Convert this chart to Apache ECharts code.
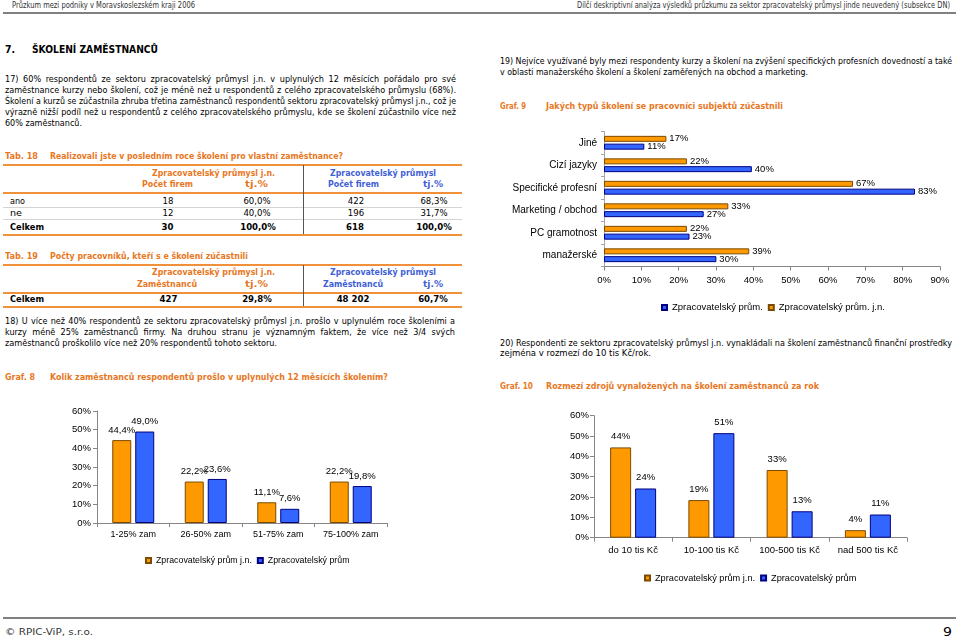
<!DOCTYPE html>
<html><head><meta charset="utf-8">
<script src="https://cdn.jsdelivr.net/npm/echarts@6/dist/echarts.min.js"></script>
<style>
html,body{margin:0;padding:0;background:#fff;width:959px;height:637px;overflow:hidden;position:relative}
.t{position:absolute;white-space:nowrap;line-height:12px;height:12px;transform-origin:0 50%;font-family:'DejaVu Sans Condensed','DejaVu Sans',sans-serif;font-size:9px;color:#000}
.hd{font-size:8.5px;color:#333}
.h1{font-family:'DejaVu Sans',sans-serif;font-weight:bold;font-size:11px}
.ot{font-weight:bold;color:#E8771E}
.tb{font-weight:bold;color:#3F5FD6}
.b{font-weight:bold}
.n{font-size:9.5px}
.pg{font-size:13px}
.rule{position:absolute}
.chart{position:absolute}
</style></head><body>
<div id="c8" class="chart" style="left:0;top:395px;width:480px;height:180px"></div>
<div id="c9" class="chart" style="left:480px;top:120px;width:479px;height:200px"></div>
<div id="c10" class="chart" style="left:480px;top:395px;width:479px;height:200px"></div>
<script>
// ---- chart data ----
const g8Categories = ['1-25% zam', '26-50% zam', '51-75% zam', '75-100% zam'];
const g8SeriesJn = [44.4, 22.2, 11.1, 22.2];
const g8SeriesAll = [49.0, 23.6, 7.6, 19.8];

const g9Categories = ['Jiné', 'Cizí jazyky', 'Specifické profesní', 'Marketing / obchod', 'PC gramotnost', 'manažerské'];
const g9SeriesJn = [16.7, 22.2, 66.7, 33.3, 22.2, 38.9];
const g9SeriesAll = [10.8, 39.6, 83.3, 26.7, 22.9, 30.1];

const g10Categories = ['do 10 tis Kč', '10-100 tis Kč', '100-500 tis Kč', 'nad 500 tis Kč'];
const g10SeriesJn = [44.4, 18.5, 33.3, 3.7];
const g10SeriesAll = [24.2, 51.4, 13.0, 11.4];

const pctTicks = [0, 10, 20, 30, 40, 50, 60, 70, 80, 90];

// ---- page text ----
const OR = '#F0903A';
const texts = [
 [12, 5, 183, 'Průzkum mezi podniky v Moravskoslezském kraji 2006', 'hd', 's'],
 [577, 5, 373, 'Dílčí deskriptivní analýza výsledků průzkumu za sektor zpracovatelský průmysl jinde neuvedený (subsekce DN)', 'hd', 's'],
 [5, 50, 10, '7.', 'h1', 's'],
 [32, 50, 126, 'ŠKOLENÍ ZAMĚSTNANCŮ', 'h1', 's'],
 [5, 79, 451, '17) 60% respondentů ze sektoru zpracovatelský průmysl j.n. v uplynulých 12 měsících pořádalo pro své', '', 'j'],
 [5, 90, 451, 'zaměstnance kurzy nebo školení, což je méně než u respondentů z celého zpracovatelského průmyslu (68%).', '', 'j'],
 [5, 101, 451, 'Školení a kurzů se zúčastnila zhruba třetina zaměstnanců respondentů sektoru zpracovatelský průmysl j.n., což je', '', 'j'],
 [5, 112, 451, 'výrazně nižší podíl než u respondentů z celého zpracovatelského průmyslu, kde se školení zúčastnilo více než', '', 'j'],
 [5, 123, 77, '60% zaměstnanců.', '', 's'],
 [5, 156, 33, 'Tab. 18', 'ot', 's'],
 [50, 156, 293, 'Realizovali jste v posledním roce školení pro vlastní zaměstnance?', 'ot', 's'],
 [152, 172.7, 123, 'Zpracovatelský průmysl j.n.', 'ot', 's'],
 [330, 172.7, 106, 'Zpracovatelský průmysl', 'tb', 's'],
 [142, 184.3, 51, 'Počet firem', 'ot', 's'],
 [245, 184.3, 23, 'tj.%', 'ot', 's'],
 [328, 184.3, 51, 'Počet firem', 'tb', 's'],
 [423, 184.3, 20, 'tj.%', 'tb', 's'],
 [10, 200.7, 15, 'ano', 'n', 's'],
 [168, 200.7, 0, '18', 'n', 'c'], [257, 200.7, 0, '60,0%', 'n', 'c'], [356, 200.7, 0, '422', 'n', 'c'], [434, 200.7, 0, '68,3%', 'n', 'c'],
 [10, 212.7, 12, 'ne', 'n', 's'],
 [168, 212.7, 0, '12', 'n', 'c'], [257, 212.7, 0, '40,0%', 'n', 'c'], [356, 212.7, 0, '196', 'n', 'c'], [434, 212.7, 0, '31,7%', 'n', 'c'],
 [10, 226.7, 34, 'Celkem', 'b', 's'],
 [167.5, 226.7, 0, '30', 'b n', 'c'], [258, 226.7, 0, '100,0%', 'b n', 'c'], [355, 226.7, 0, '618', 'b n', 'c'], [434, 226.7, 0, '100,0%', 'b n', 'c'],
 [5, 256, 33, 'Tab. 19', 'ot', 's'],
 [50, 256, 198, 'Počty pracovníků, kteří s e školení zúčastnili', 'ot', 's'],
 [152, 271.7, 123, 'Zpracovatelský průmysl j.n.', 'ot', 's'],
 [330, 271.7, 106, 'Zpracovatelský průmysl', 'tb', 's'],
 [137, 284.3, 60, 'Zaměstnanců', 'ot', 's'],
 [245, 284.3, 23, 'tj.%', 'ot', 's'],
 [323, 284.3, 60, 'Zaměstnanců', 'tb', 's'],
 [423, 284.3, 20, 'tj.%', 'tb', 's'],
 [10, 299.3, 34, 'Celkem', 'b', 's'],
 [168.5, 299.3, 0, '427', 'b n', 'c'], [257, 299.3, 0, '29,8%', 'b n', 'c'], [353, 299.3, 0, '48 202', 'b n', 'c'], [433, 299.3, 0, '60,7%', 'b n', 'c'],
 [5, 321, 450, '18) U více než 40% respondentů ze sektoru zpracovatelský průmysl j.n.  prošlo v uplynulém roce školeními a', '', 'j'],
 [5, 332.3, 450, 'kurzy méně 25% zaměstnanců firmy. Na druhou stranu  je významným faktem, že více než 3/4 svých', '', 'j'],
 [5, 343.3, 272, 'zaměstnanců  proškolilo více než 20% respondentů  tohoto sektoru.', '', 's'],
 [5, 377.3, 30, 'Graf. 8', 'ot', 's'],
 [50, 377.3, 338, 'Kolik zaměstnanců respondentů prošlo v uplynulých 12 měsících školením?', 'ot', 's'],
 [500, 61, 452, '19) Nejvíce využívané byly mezi respondenty kurzy a školení na zvýšení specifických profesních dovedností a také', '', 'j'],
 [500, 72, 308, 'v oblasti manažerského školení a školení zaměřených na obchod a marketing.', '', 's'],
 [500, 106, 26, 'Graf. 9', 'ot', 's'],
 [546, 106, 237, 'Jakých typů školení se pracovníci subjektů zúčastnili', 'ot', 's'],
 [500, 342.7, 452, '20) Respondenti ze sektoru zpracovatelský průmysl j.n. vynakládali na školení zaměstnanců finanční prostředky', '', 'j'],
 [500, 353.3, 151, 'zejména v rozmezí do 10 tis Kč/rok.', '', 's'],
 [500, 385.7, 33, 'Graf. 10', 'ot', 's'],
 [546, 385.7, 273, 'Rozmezí zdrojů vynaložených na školení zaměstnanců za rok', 'ot', 's'],
 [5, 632, 88, '© RPIC-ViP, s.r.o.', 'hd', 's'],
 [943, 632, 9, '9', 'pg', 's']
];
const rules = [
 [3, 12, 953, 2, '#808080'],
 [3, 163.5, 459, 2, OR], [3, 191.5, 459, 2, OR], [3, 233.5, 459, 2, OR],
 [3, 206.5, 459, 1, '#d4d4d4'], [3, 219, 459, 1, '#d4d4d4'], [303, 165, 1, 69, '#555'],
 [3, 263.5, 459, 2, OR], [3, 291.5, 459, 2, OR], [3, 306, 459, 2, OR], [303, 265, 1, 41, '#555'],
 [3, 616.5, 953, 2, '#808080']
];

rules.forEach(([x, y, w, h, c]) => {
  const d = document.createElement('div');
  d.className = 'rule';
  d.style.cssText = `left:${x}px;top:${y}px;width:${w}px;height:${h}px;background:${c}`;
  document.body.appendChild(d);
});

function placeTexts() {
  texts.forEach(([x, yc, w, text, cls, mode]) => {
    const el = document.createElement('div');
    el.className = 't ' + (cls || '');
    el.textContent = text;
    el.style.left = x + 'px';
    el.style.top = (yc - 6) + 'px';
    document.body.appendChild(el);
    const nat = el.getBoundingClientRect().width;
    if (mode === 'c') {
      el.style.left = (x - nat / 2) + 'px';
    } else if (mode === 'j' && nat < w) {
      const spaces = (text.replace(/ +/g, ' ').match(/ /g) || []).length;
      el.style.wordSpacing = ((w - nat) / spaces) + 'px';
    } else {
      el.style.transform = 'scaleX(' + (w / nat) + ')';
    }
  });
}

// ---- charts ----
const FONT = "'Liberation Sans', Arial, sans-serif";
const AX = '#868686';
const orangeStyle = { color: '#FF9900', borderColor: '#7A4B00', borderWidth: 1 };
const blueStyle = { color: '#3366FF', borderColor: '#000080', borderWidth: 1 };
const fmt1 = v => v.toFixed(1).replace('.', ',') + '%';
const fmt0 = v => Math.round(v) + '%';

function axisCat(data, margin, fs) {
  return { type: 'category', data: data,
    axisLine: { show: true, lineStyle: { color: AX } },
    axisTick: { show: true, length: 4, lineStyle: { color: AX } },
    axisLabel: { fontSize: fs, color: '#000', margin: margin, interval: 0, fontFamily: FONT } };
}
function axisVal(max, margin, fs) {
  return { type: 'value', min: 0, max: max, interval: 10,
    axisLine: { show: true, lineStyle: { color: AX } },
    axisTick: { show: true, length: 4, lineStyle: { color: AX } },
    splitLine: { show: false },
    axisLabel: { fontSize: fs, color: '#000', margin: margin, fontFamily: FONT,
      formatter: v => (pctTicks.indexOf(v) >= 0 ? v + '%' : '') } };
}
function legend(left, top, names, fs) {
  return { left: left, top: top, padding: 0, icon: 'rect', itemWidth: 5, itemHeight: 5, itemGap: 5,
    data: names, textStyle: { fontSize: fs, color: '#000', fontFamily: FONT, lineHeight: 11 } };
}

const nJn8 = 'Zpracovatelský prům j.n.', nAll8 = 'Zpracovatelský prům';
const c8 = echarts.init(document.getElementById('c8'), null, { renderer: 'canvas' });
c8.setOption({
  animation: false,
  textStyle: { fontFamily: FONT },
  grid: { left: 97, top: 16, width: 290, height: 112, containLabel: false },
  legend: legend(145, 160, [nJn8, nAll8], 8.8),
  xAxis: axisCat(g8Categories, 7, 9),
  yAxis: axisVal(60, 6, 9.5),
  series: [
    { name: nJn8, type: 'bar', data: g8SeriesJn, barWidth: 19, barGap: '21%', itemStyle: orangeStyle,
      label: { show: true, position: 'top', distance: 5, fontSize: 9.5, color: '#000', fontFamily: FONT, formatter: p => fmt1(p.value) } },
    { name: nAll8, type: 'bar', data: g8SeriesAll, barWidth: 19, barGap: '21%', itemStyle: blueStyle,
      label: { show: true, position: 'top', distance: 5, fontSize: 9.5, color: '#000', fontFamily: FONT, formatter: p => fmt1(p.value) } }
  ]
});

const nAll9 = 'Zpracovatelský prům.', nJn9 = 'Zpracovatelský prům. j.n.';
const c9 = echarts.init(document.getElementById('c9'), null, { renderer: 'canvas' });
const y9 = axisCat(g9Categories, 7, 10);
y9.inverse = true;
y9.axisTick.length = 3;
y9.axisLine.lineStyle.color = '#A6A6A6';
y9.axisTick.lineStyle.color = '#A6A6A6';
c9.setOption({
  animation: false,
  textStyle: { fontFamily: FONT },
  grid: { left: 124, top: 11.5, width: 336, height: 135, containLabel: false },
  legend: legend(181, 182, [nAll9, nJn9], 9.5),
  xAxis: axisVal(90, 9, 9.5),
  yAxis: y9,
  series: [
    { name: nJn9, type: 'bar', data: g9SeriesJn, barWidth: 6, barGap: '30%', itemStyle: orangeStyle,
      label: { show: true, position: 'right', distance: 3, fontSize: 9.5, color: '#000', fontFamily: FONT, formatter: p => fmt0(p.value) } },
    { name: nAll9, type: 'bar', data: g9SeriesAll, barWidth: 6, barGap: '30%', itemStyle: blueStyle,
      label: { show: true, position: 'right', distance: 3, fontSize: 9.5, color: '#000', fontFamily: FONT, formatter: p => fmt0(p.value) } }
  ]
});

const c10 = echarts.init(document.getElementById('c10'), null, { renderer: 'canvas' });
c10.setOption({
  animation: false,
  textStyle: { fontFamily: FONT },
  grid: { left: 114, top: 20.7, width: 313, height: 122, containLabel: false },
  legend: legend(164, 177.5, [nJn8, nAll8], 9.2),
  xAxis: axisCat(g10Categories, 8, 9.5),
  yAxis: axisVal(60, 5, 9.5),
  series: [
    { name: nJn8, type: 'bar', data: g10SeriesJn, barWidth: 21, barGap: '19%', itemStyle: orangeStyle,
      label: { show: true, position: 'top', distance: 6, fontSize: 9.5, color: '#000', fontFamily: FONT, formatter: p => fmt0(p.value) } },
    { name: nAll8, type: 'bar', data: g10SeriesAll, barWidth: 21, barGap: '19%', itemStyle: blueStyle,
      label: { show: true, position: 'top', distance: 6, fontSize: 9.5, color: '#000', fontFamily: FONT, formatter: p => fmt0(p.value) } }
  ]
});

if (document.fonts && document.fonts.ready) { document.fonts.ready.then(placeTexts); } else { placeTexts(); }
</script>
</body></html>
